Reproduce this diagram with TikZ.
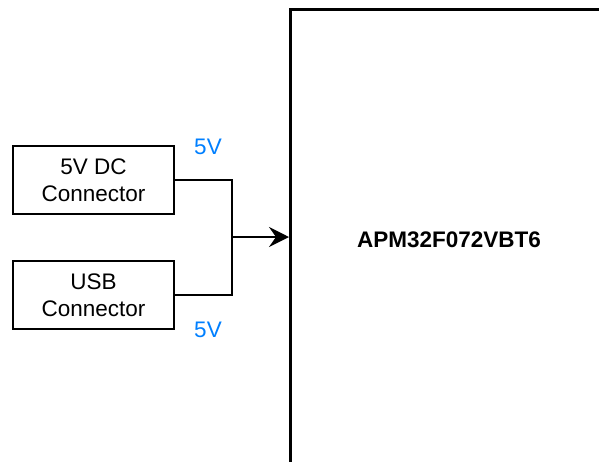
\documentclass[tikz,border=0pt]{standalone}
\usepackage{fontspec}
\setmainfont{Liberation Sans}
\usetikzlibrary{arrows.meta}
\definecolor{volt}{RGB}{0,127,255}
\tikzset{
  conbox/.style={draw, line width=1.8pt, minimum width=161pt, minimum height=68pt, inner sep=0pt, align=center, font=\fontsize{22.5}{27}\selectfont},
  mcubox/.style={draw, line width=2.8pt, minimum width=400pt, minimum height=520pt, inner sep=0pt},
  wire/.style={line width=1.8pt},
  vlabel/.style={text=volt, font=\fontsize{22.5}{26}\selectfont, inner sep=0pt},
  mculabel/.style={font=\bfseries\fontsize{22.5}{26}\selectfont, inner sep=0pt}
}
\begin{document}
\begin{tikzpicture}[x=1pt,y=-1pt]
\useasboundingbox (0,0) rectangle (599,461);
\node[conbox] (dc) at (93.5,180) {5V DC\\Connector};
\node[conbox] (usb) at (93.5,295) {USB\\Connector};
\node[mcubox, anchor=north west] (mcu) at (289,8) {};
\node[mculabel] (mcutext) at (449,240) {APM32F072VBT6};
\node[vlabel] (v1) at (208,147) {5V};
\node[vlabel] (v2) at (208,330) {5V};
\coordinate (j) at (232,237);
\draw[wire] (dc.east) -| (j);
\draw[wire] (usb.east) -| (j);
\draw[wire, -{Stealth[length=20pt, width=20pt, inset=7pt]}] (j) -- (mcu.west |- j);
\end{tikzpicture}
\end{document}
